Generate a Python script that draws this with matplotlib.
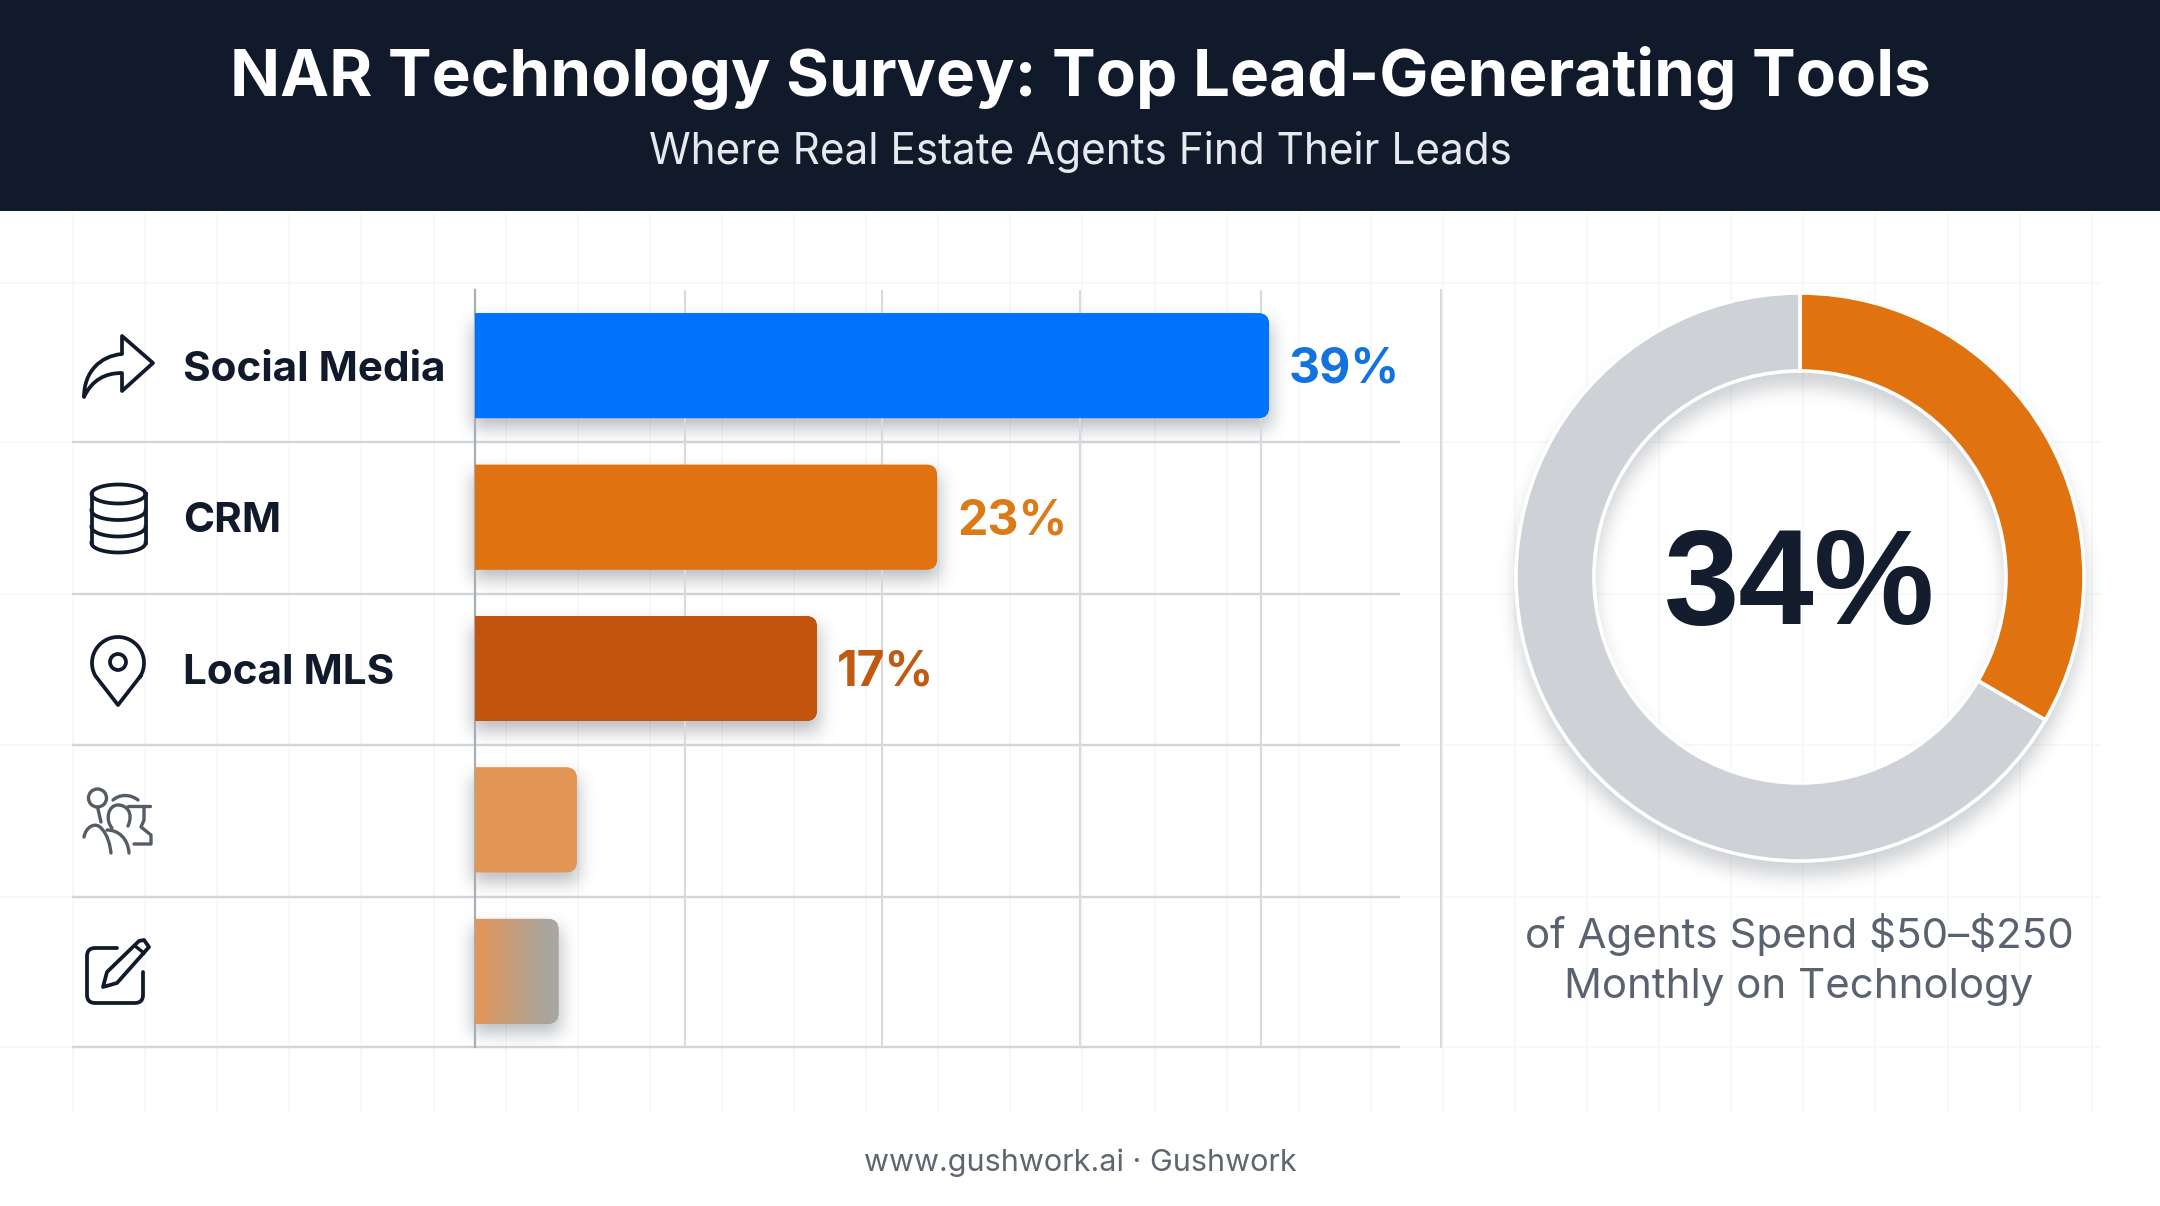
import numpy as np
import matplotlib
matplotlib.use("Agg")
import matplotlib.pyplot as plt
from matplotlib.path import Path
from matplotlib.patches import PathPatch, FancyBboxPatch, Rectangle, Circle

# ---- data ----
categories = ["Social Media", "CRM", "Local MLS", "", ""]
values = [39, 22.7, 16.8, 5, 4.1]
value_labels = ["39%", "23%", "17%", "", ""]
bar_colors = ["#0073FB", "#E0730F", "#C2540E", "#E29655", "#E0975A"]
label_colors = ["#1272E0", "#DC7A18", "#C05A12", "#000000", "#000000"]
grid_ticks = [10.3, 20.0, 29.7, 38.6]
donut_values = [33.4, 66.6]
donut_colors = ["#E0730F", "#CED1D5"]
title = "NAR Technology Survey: Top Lead-Generating Tools"
subtitle = "Where Real Estate Agents Find Their Leads"
donut_center = "34%"
caption = ["of Agents Spend \\$50\u2013\\$250", "Monthly on Technology"]
footer = "www.gushwork.ai \u00b7 Gushwork"

W, H = 2160, 1206
DARK = "#101A2B"
plt.rcParams["font.family"] = ["Inter", "DejaVu Sans"]
fig = plt.figure(figsize=(W / 100, H / 100), dpi=100, facecolor="white")


def rect_px(x0, y0, x1, y1):
    return [x0 / W, 1 - y1 / H, (x1 - x0) / W, (y1 - y0) / H]


def fit(t, target):
    r = fig.canvas.get_renderer()
    w = t.get_window_extent(r).width
    t.set_fontsize(t.get_fontsize() * target / w)
    return t.get_fontsize()


# ---- page layer in pixel coordinates ----
bg = fig.add_axes([0, 0, 1, 1], zorder=0)
bg.set_xlim(0, W)
bg.set_ylim(H, 0)
bg.axis("off")
bg.add_patch(Rectangle((0, 0), W, 211, fc=DARK, ec="none"))

FAINT = "#F5F6F7"
for x in 73 + 72.1 * np.arange(29):
    bg.plot([x, x], [214, 1112], color=FAINT, lw=1.1, zorder=1)
for y in [283, 442, 594, 745, 897, 1047]:
    bg.plot([0, 2100], [y, y], color=FAINT, lw=1.1, zorder=1)
for y in [442, 593.5, 745, 896.5, 1047]:
    bg.plot([72, 1400], [y, y], color="#D2D5D9", lw=1.7, zorder=2, solid_capstyle="butt")
bg.plot([1441, 1441], [290, 1047], color="#D8DADD", lw=1.5, zorder=2)

t = bg.text(1080, 78, title, color="white", weight="bold", fontsize=50, ha="center", va="center")
fit(t, 1700)
t = bg.text(1080, 152, subtitle, color="#E6E9ED", fontsize=30, ha="center", va="center")
fit(t, 864)
t = bg.text(1080, 1163, footer, color="#5F6670", fontsize=24, ha="center", va="center")
fit(t, 433)
t = bg.text(1799, 934, caption[0], color="#5A6270", fontsize=30, ha="center", va="center")
fs = fit(t, 549)
bg.text(1799, 987, caption[1], color="#5A6270", fontsize=fs, ha="center", va="center")

# ---- icons (decorative) ----
ICON = dict(fc="none", ec=DARK, lw=2.7, joinstyle="round", capstyle="round", zorder=3)
M, L, C3, Z = Path.MOVETO, Path.LINETO, Path.CURVE4, Path.CLOSEPOLY
bg.add_patch(PathPatch(Path(
    [(153, 363), (122, 336), (122, 354), (100, 356), (84, 372), (84, 397),
     (92, 380), (105, 373), (122, 373), (122, 391), (153, 363)],
    [M, L, L, C3, C3, C3, C3, C3, C3, L, Z]), **ICON))

# database
th = np.linspace(0, 2 * np.pi, 80)
bg.plot(118.5 + 27 * np.cos(th), 494 + 9.5 * np.sin(th), color=DARK, lw=2.7, zorder=3)
for cy in [510.5, 527, 543]:
    th = np.linspace(0, np.pi, 40)
    bg.plot(118.5 + 27 * np.cos(th), cy + 9.5 * np.sin(th), color=DARK, lw=2.7, zorder=3)
bg.plot([91.5, 91.5], [494, 543], color=DARK, lw=2.7, zorder=3)
bg.plot([145.5, 145.5], [494, 543], color=DARK, lw=2.7, zorder=3)

# pin
th = np.radians(np.linspace(-30, 210, 80))
xs = np.r_[118 + 26 * np.cos(th), 118, 118 + 26 * np.cos(th[0])]
ys_pin = np.r_[663 - 26 * np.sin(th), 705, 663 - 26 * np.sin(th[0])]
bg.plot(xs, ys_pin, color=DARK, lw=2.7, zorder=3, solid_joinstyle="round")
bg.add_patch(Circle((118, 662), 8, **ICON))

# people
G = "#555C66"


def line(pts, color=G):
    bg.plot(*zip(*pts), color=color, lw=2.4, zorder=3, solid_capstyle="round", solid_joinstyle="round")


def curve(p, color=G):
    codes = [M] + [C3] * (len(p) - 1)
    bg.add_patch(PathPatch(Path(p, codes), fc="none", ec=color, lw=2.4, capstyle="round", zorder=3))


bg.add_patch(Circle((97.5, 798), 9, fc="none", ec=G, lw=2.4, zorder=3))
line([(97.5, 807), (101, 822)])
curve([(84, 837), (86, 826), (96, 822), (101, 828), (108, 835), (110, 845), (111, 853)])
curve([(128, 826), (134, 812), (126, 805), (118, 805), (108, 805), (105, 820), (112, 828)])
curve([(107, 830), (118, 830), (128, 838), (129, 853)])
curve([(113, 800), (120, 794), (130, 794), (138, 800)])
line([(128, 806), (150, 806)])
line([(144, 807), (144, 820), (141, 827), (151, 835), (151, 844), (134, 844)])

# edit
bg.add_patch(PathPatch(Path(
    [(117, 948), (95, 948), (87, 948), (87, 956), (87, 995), (87, 1003), (95, 1003),
     (135, 1003), (143, 1003), (143, 995), (143, 972)],
    [M, L, 3, 3, L, 3, 3, L, 3, 3, L]), **ICON))
bg.add_patch(PathPatch(Path(
    [(103, 987), (107, 972), (139, 941), (144, 940), (149, 947), (117, 983), (103, 987)],
    [M, L, L, L, L, L, Z]), **ICON))
bg.plot([135, 144], [946, 953], color=DARK, lw=2.4, zorder=4)

# ---- bar chart ----
AX_X0, AX_X1, AX_Y0, AX_Y1 = 475, 1400, 290, 1047
PX_PER_X = 20.36
PX_PER_ROW = (AX_Y1 - AX_Y0) / 5
ax = fig.add_axes(rect_px(AX_X0, AX_Y0, AX_X1, AX_Y1), zorder=2)
ax.patch.set_alpha(0)
ax.set_xlim(0, (AX_X1 - AX_X0) / PX_PER_X)
ax.set_ylim(4.5, -0.5)
for s in ["top", "right", "bottom"]:
    ax.spines[s].set_visible(False)
ax.spines["left"].set_color("#A9AEB4")
ax.spines["left"].set_linewidth(1.6)
ax.set_xticks(grid_ticks)
ax.set_xticklabels([])
ax.tick_params(axis="x", length=0)
ax.grid(axis="x", color="#D8DADD", lw=1.5)
ax.set_axisbelow(True)

BAR_H = 105 / PX_PER_ROW
R_PX = 11
ys = np.arange(len(values))
bars = ax.barh(ys, values, height=BAR_H, color=bar_colors, zorder=3)
for y, v, c, b in zip(ys, values, bar_colors, bars):
    rx = R_PX / PX_PER_X
    rounded = FancyBboxPatch((-rx * 2, y - BAR_H / 2), v + rx * 2, BAR_H,
                             boxstyle=f"round,pad=0,rounding_size={rx}",
                             mutation_aspect=PX_PER_X / PX_PER_ROW,
                             fc=c if y != 4 else "#A9A69F", ec="none", zorder=3, transform=ax.transData)
    ax.add_patch(rounded)
    b.set_clip_path(rounded)
    if y == 4:
        grad = np.zeros((2, 64, 3))
        a = np.array(matplotlib.colors.to_rgb("#E0975A"))
        e = np.array(matplotlib.colors.to_rgb("#A9A69F"))
        f = np.clip(np.linspace(-0.05, 1.15, 64), 0, 1)[None, :, None]
        grad[:] = a * (1 - f) + e * f
        im = ax.imshow(grad, extent=(0, v, y + BAR_H / 2, y - BAR_H / 2), aspect="auto", zorder=3.5)
        im.set_clip_path(rounded)
ax.set_xlim(0, (AX_X1 - AX_X0) / PX_PER_X)
ax.set_ylim(4.5, -0.5)

ax.set_yticks(ys)
ax.set_yticklabels(categories, ha="left", color=DARK, weight="bold", fontsize=30)
ax.tick_params(axis="y", length=0, pad=(AX_X0 - 183) * 0.72)
lab0 = ax.get_yticklabels()[0]
cat_fs = fit(lab0, 263)
for lab in ax.get_yticklabels():
    lab.set_fontsize(cat_fs)

val_fs = None
for y, v, s, c in zip(ys, values, value_labels, label_colors):
    if s:
        t = ax.annotate(s, (v, y), xytext=(14.4, 0.7), textcoords="offset points",
                        color=c, weight="bold", fontsize=val_fs or 36, ha="left", va="center_baseline")
        if val_fs is None:
            val_fs = fit(t, 111)

# ---- donut ----
CX, CY, R_OUT, R_IN = 1800, 577, 284, 206
dax = fig.add_axes(rect_px(CX - 320, CY - 320, CX + 320, CY + 320), zorder=2)
dax.patch.set_alpha(0)
dax.pie(donut_values, colors=donut_colors, startangle=90, counterclock=False, radius=R_OUT,
        wedgeprops=dict(width=R_OUT - R_IN, edgecolor="white", linewidth=2.6))
dax.set_xlim(-320, 320)
dax.set_ylim(-320, 320)
t = dax.text(0, 2, donut_center, color="#141D2D", weight="bold", fontsize=100, ha="center",
             va="center_baseline", family=["Liberation Sans", "DejaVu Sans"])
fit(t, 271)

# ---- soft shadows under the marks ----
fig.canvas.draw()


def box_blur(a, n, axis):
    c = np.cumsum(np.insert(a, 0, 0, axis=axis), axis=axis)
    k = 2 * n + 1
    idx_hi = np.clip(np.arange(a.shape[axis]) + n + 1, 0, a.shape[axis])
    idx_lo = np.clip(np.arange(a.shape[axis]) - n, 0, a.shape[axis])
    return (np.take(c, idx_hi, axis=axis) - np.take(c, idx_lo, axis=axis)) / k


def blur(a, n):
    for _ in range(3):
        a = box_blur(box_blur(a, n, 0), n, 1)
    return a


alpha = np.zeros((H, W))
mask = np.zeros((H, W))
for y, v in zip(ys, values):
    (x0, py0), (x1, py1) = ax.transData.transform([(0, y - BAR_H / 2), (v, y + BAR_H / 2)])
    mask[int(H - py0) + 10: int(H - py1) + 10, int(x0) - 2: int(x1) + 2] = 1
alpha = np.maximum(alpha, blur(mask, 8) * 0.36)
yy, xx = np.mgrid[0:H, 0:W]
d = np.hypot(xx - CX, yy - (CY + 14))
ring = ((d <= R_OUT + 1) & (d >= R_IN - 1)).astype(float)
alpha = np.maximum(alpha, blur(ring, 8) * 0.24)
rgba = np.zeros((H, W, 4))
rgba[..., :3] = matplotlib.colors.to_rgb("#39424E")
rgba[..., 3] = alpha
fig.figimage(rgba, 0, 0, origin="upper", zorder=1)

fig.savefig("out.png", dpi=100, facecolor="white")
